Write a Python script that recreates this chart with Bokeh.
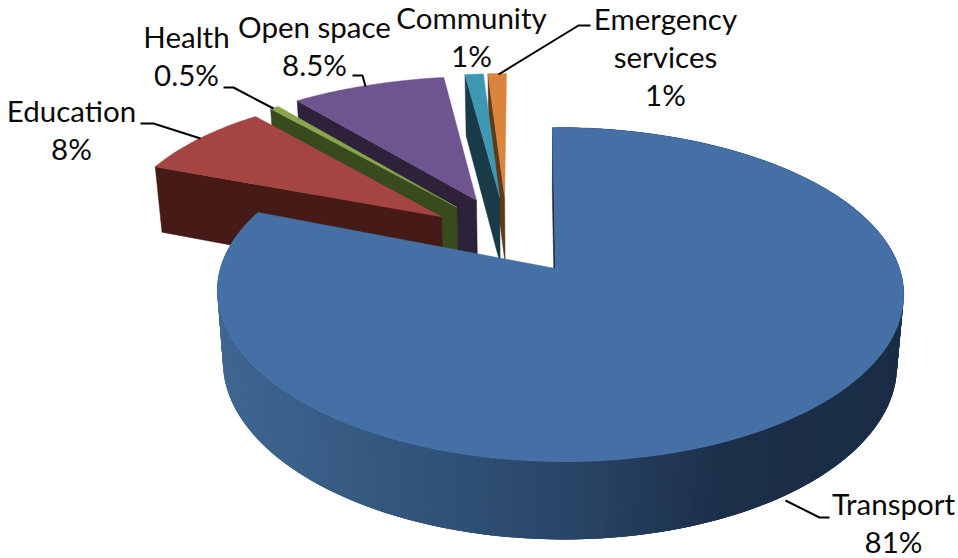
import math
from bokeh.core.properties import value
from bokeh.embed import file_html
from bokeh.models import Range1d
from bokeh.plotting import figure
from bokeh.resources import INLINE

# Budget shares, clockwise from twelve o'clock
categories = ["Transport", "Education", "Health", "Open space", "Community", "Emergency\nservices"]
shares = [81, 8, 0.5, 8.5, 1, 1]
share_labels = ["81%", "8%", "0.5%", "8.5%", "1%", "1%"]

top_colors = ["#4470a6", "#a54542", "#89a54e", "#6f5590", "#3f98b3", "#db843d"]
wall_colors = ["#1b2d46", "#451a17", "#3a4a1f", "#2d2239", "#193b47", "#5d3a1a"]

# Projection of the tilted disc onto the page
CX, CY = 555.0, 268.0
RX, RY = 339.5, 163.0
KX_MAIN, KX_PULLED = 0.145, 0.10
KY, KS = 0.156, 0.0131
SHEAR = 0.02
DEPTH, KD = 70.0, 0.10
VANISH_X, SHRINK = 530.0, 0.982
EXPLODE_X, EXPLODE_Y = 0.2475, 0.34
SHIFT_X, SHIFT_Y = -0.145, 0.135


def top_point(x, y, kx):
    sy = CY - RY * y / (1 + KY * y - KS * x)
    sx = CX + RX * x / (1 + kx * y - KS * x) + SHEAR * (sy - CY)
    return sx, sy


def bottom_point(x, y, kx):
    sx, sy = top_point(x, y, kx)
    return VANISH_X + (sx - VANISH_X) * SHRINK, sy + DEPTH / (1 + KD * y)


def mix(stops, t):
    for (t0, c0), (t1, c1) in zip(stops, stops[1:]):
        if t <= t1:
            f = max(0.0, (t - t0) / (t1 - t0))
            rgb = [round(c0[i] + (c1[i] - c0[i]) * f) for i in range(3)]
            return "#%02x%02x%02x" % tuple(rgb)
    return "#%02x%02x%02x" % stops[-1][1]


WALL_STOPS = [(216, (64, 103, 146)), (400, (51, 85, 124)), (560, (41, 70, 104)),
              (720, (28, 47, 72)), (910, (27, 45, 70))]

p = figure(width=958, height=558, output_backend="svg", toolbar_location=None,
           x_range=Range1d(0, 958), y_range=Range1d(558, 0), min_border=0,
           outline_line_color=None, background_fill_color="white")
p.axis.visible = False
p.grid.visible = False

total = sum(shares)
spans = []
start = 0.0
for s in shares:
    end = start + 360.0 * s / total
    spans.append((start, end))
    start = end

# Slices are painted so that each one overlaps the cut face of its clockwise
# neighbour; the large one goes last
for i in [5, 4, 3, 2, 1, 0]:
    a0, a1 = spans[i]
    if i == 0:
        ox, oy, kx = 0.0, 0.0, KX_MAIN
    else:
        mid = math.radians((a0 + a1) / 2)
        ox = EXPLODE_X * math.sin(mid) + SHIFT_X
        oy = EXPLODE_Y * math.cos(mid) + SHIFT_Y
        kx = KX_PULLED

    steps = max(4, int((a1 - a0) * 1.5))
    angles = [math.radians(a0 + (a1 - a0) * k / steps) for k in range(steps + 1)]
    rim = [(ox + math.sin(a), oy + math.cos(a)) for a in angles]

    # Cut face along the slice's first radius
    near = [(ox, oy), rim[0]]
    pts = [top_point(*q, kx) for q in near] + [bottom_point(*q, kx) for q in reversed(near)]
    p.patch([q[0] for q in pts], [q[1] for q in pts], fill_color=wall_colors[i],
            line_color=wall_colors[i], line_width=0.5)

    # Curved outer wall of the large slice, shaded from left to right; each
    # strip overlaps the next one so no seams show between them
    if i == 0:
        for k in range(len(rim) - 1):
            q0, q1 = rim[k], rim[min(k + 3, len(rim) - 1)]
            pts = [top_point(*q0, kx), top_point(*q1, kx),
                   bottom_point(*q1, kx), bottom_point(*q0, kx)]
            shade = mix(WALL_STOPS, sum(q[0] for q in pts) / 4)
            p.patch([q[0] for q in pts], [q[1] for q in pts], fill_color=shade,
                    line_color=None)

    outline = [top_point(ox, oy, kx)] + [top_point(*q, kx) for q in rim]
    p.patch([q[0] for q in outline], [q[1] for q in outline], fill_color=top_colors[i],
            line_color=top_colors[i], line_width=0.5)

# Label text, one column of lines per slice
label_centres = [(893, 503), (71, 110), (186, 36), (314, 26), (471, 17), (665, 18)]
LINE_STEP = 38
for name, pct, (lx, ly) in zip(categories, share_labels, label_centres):
    for n, line in enumerate(name.split("\n") + [pct]):
        p.text([lx], [ly + n * LINE_STEP], text=[line], text_font=value("Lato"),
               text_font_size="29.5px", text_color="#0a0a0a", text_align="center",
               text_baseline="middle")

# Leader lines from labels to slices
leaders = [
    ([829, 819, 785], [517, 517, 500]),
    ([140, 153, 200], [123, 123, 138]),
    ([223, 233, 273], [87, 87, 108]),
    ([352, 362, 365], [75, 75, 86]),
    ([590, 578, 498], [25, 25, 74]),
]
for xs, ys in leaders:
    p.line(xs, ys, line_color="black", line_width=2)

open("out.html", "w").write(file_html(p, INLINE))
